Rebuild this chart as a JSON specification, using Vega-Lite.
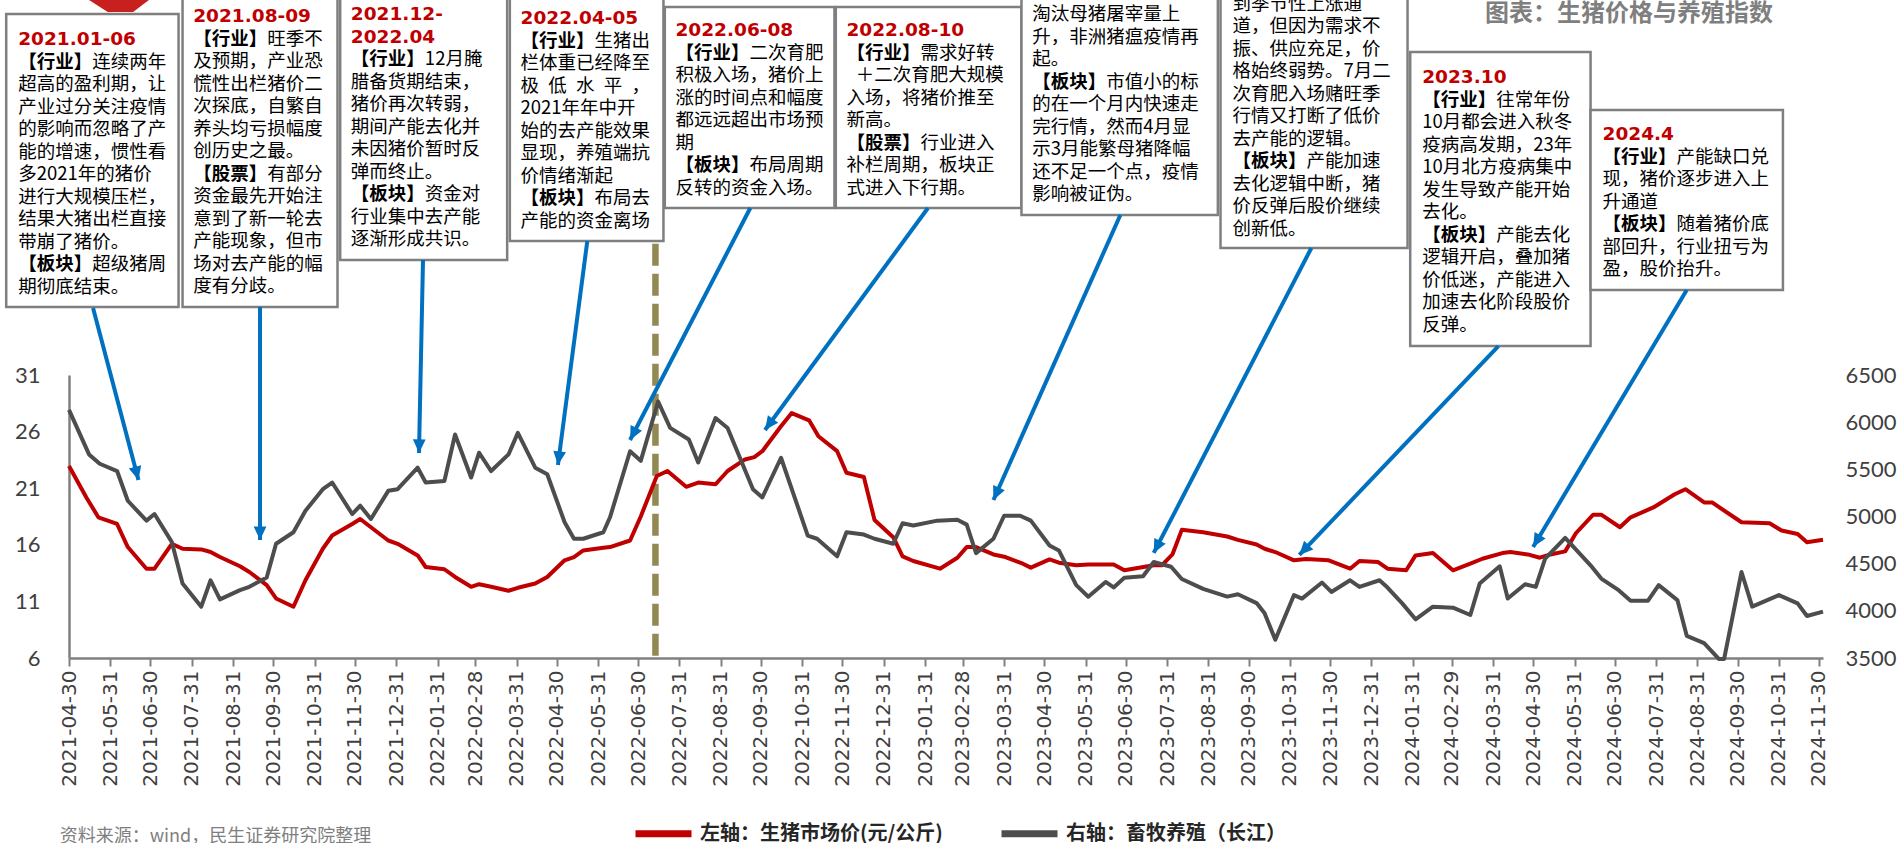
{
"$schema": "https://vega.github.io/schema/vega-lite/v6.json",
"width": 1754, "height": 283,
"autosize": {"type": "none"},
"padding": {"left": 69, "top": 375, "right": 78, "bottom": 185},
"background": "white",
"config": {"view": {"stroke": null}, "axis": {"grid": false}},
"datasets": {
"red": [
{"d":"2021-04-30","v":22.96},{"d":"2021-05-13","v":20.18},{"d":"2021-05-22","v":18.43},{"d":"2021-06-05","v":17.84},{"d":"2021-06-13","v":15.8},{"d":"2021-06-27","v":13.89},{"d":"2021-07-03","v":13.89},{"d":"2021-07-16","v":16.09},{"d":"2021-07-24","v":15.65},{"d":"2021-08-07","v":15.59},{"d":"2021-08-14","v":15.36},{"d":"2021-08-21","v":14.92},{"d":"2021-09-05","v":14.1},{"d":"2021-09-12","v":13.6},{"d":"2021-09-25","v":12.43},{"d":"2021-10-02","v":11.26},{"d":"2021-10-15","v":10.53},{"d":"2021-10-24","v":12.87},{"d":"2021-11-06","v":15.65},{"d":"2021-11-13","v":16.82},{"d":"2021-11-28","v":17.84},{"d":"2021-12-04","v":18.28},{"d":"2021-12-12","v":17.55},{"d":"2021-12-25","v":16.38},{"d":"2022-01-01","v":16.09},{"d":"2022-01-16","v":15.06},{"d":"2022-01-22","v":14.04},{"d":"2022-02-05","v":13.84},{"d":"2022-02-13","v":13.16},{"d":"2022-02-25","v":12.29},{"d":"2022-03-03","v":12.52},{"d":"2022-03-12","v":12.29},{"d":"2022-03-25","v":11.94},{"d":"2022-04-01","v":12.2},{"d":"2022-04-14","v":12.58},{"d":"2022-04-23","v":13.16},{"d":"2022-05-06","v":14.63},{"d":"2022-05-13","v":14.92},{"d":"2022-05-20","v":15.5},{"d":"2022-06-04","v":15.74},{"d":"2022-06-09","v":15.8},{"d":"2022-06-24","v":16.38},{"d":"2022-07-02","v":18.5},{"d":"2022-07-14","v":22.08},{"d":"2022-07-22","v":22.52},{"d":"2022-08-05","v":21.12},{"d":"2022-08-14","v":21.5},{"d":"2022-08-27","v":21.35},{"d":"2022-09-05","v":22.52},{"d":"2022-09-18","v":23.54},{"d":"2022-09-25","v":23.75},{"d":"2022-10-01","v":24.27},{"d":"2022-10-15","v":26.47},{"d":"2022-10-23","v":27.64},{"d":"2022-11-05","v":27.0},{"d":"2022-11-12","v":25.59},{"d":"2022-11-26","v":24.27},{"d":"2022-12-03","v":22.37},{"d":"2022-12-16","v":21.99},{"d":"2022-12-24","v":18.19},{"d":"2023-01-07","v":16.67},{"d":"2023-01-14","v":14.98},{"d":"2023-01-22","v":14.57},{"d":"2023-02-11","v":13.89},{"d":"2023-02-24","v":14.86},{"d":"2023-03-03","v":15.8},{"d":"2023-03-10","v":15.8},{"d":"2023-03-23","v":15.15},{"d":"2023-04-01","v":14.92},{"d":"2023-04-14","v":14.33},{"d":"2023-04-20","v":13.98},{"d":"2023-05-04","v":14.71},{"d":"2023-05-11","v":14.42},{"d":"2023-05-24","v":14.19},{"d":"2023-06-02","v":14.27},{"d":"2023-06-21","v":14.27},{"d":"2023-06-29","v":13.75},{"d":"2023-07-21","v":14.19},{"d":"2023-07-27","v":14.19},{"d":"2023-08-04","v":15.15},{"d":"2023-08-11","v":17.32},{"d":"2023-08-27","v":17.11},{"d":"2023-09-14","v":16.73},{"d":"2023-09-22","v":16.44},{"d":"2023-10-06","v":16.03},{"d":"2023-10-12","v":15.65},{"d":"2023-10-20","v":15.36},{"d":"2023-11-03","v":14.63},{"d":"2023-11-12","v":14.74},{"d":"2023-11-29","v":14.63},{"d":"2023-12-15","v":13.89},{"d":"2023-12-22","v":14.57},{"d":"2024-01-05","v":14.48},{"d":"2024-01-12","v":13.89},{"d":"2024-01-26","v":13.75},{"d":"2024-02-02","v":15.06},{"d":"2024-02-15","v":15.27},{"d":"2024-03-01","v":13.75},{"d":"2024-03-14","v":14.33},{"d":"2024-03-23","v":14.77},{"d":"2024-04-07","v":15.27},{"d":"2024-04-13","v":15.36},{"d":"2024-04-26","v":15.15},{"d":"2024-05-05","v":14.86},{"d":"2024-05-13","v":15.15},{"d":"2024-05-24","v":15.42},{"d":"2024-06-01","v":17.02},{"d":"2024-06-14","v":18.66},{"d":"2024-06-20","v":18.66},{"d":"2024-07-04","v":17.55},{"d":"2024-07-12","v":18.43},{"d":"2024-07-29","v":19.3},{"d":"2024-08-14","v":20.47},{"d":"2024-08-22","v":20.91},{"d":"2024-09-05","v":19.74},{"d":"2024-09-11","v":19.74},{"d":"2024-10-03","v":17.99},{"d":"2024-10-24","v":17.9},{"d":"2024-11-02","v":17.26},{"d":"2024-11-14","v":16.96},{"d":"2024-11-21","v":16.23},{"d":"2024-12-03","v":16.44}
],
"gray": [
{"d":"2021-04-30","v":6131},{"d":"2021-05-15","v":5658},{"d":"2021-05-23","v":5559},{"d":"2021-06-05","v":5482},{"d":"2021-06-13","v":5167},{"d":"2021-06-27","v":4956},{"d":"2021-07-03","v":5026},{"d":"2021-07-16","v":4728},{"d":"2021-07-24","v":4290},{"d":"2021-08-07","v":4044},{"d":"2021-08-14","v":4324},{"d":"2021-08-21","v":4121},{"d":"2021-09-05","v":4220},{"d":"2021-09-12","v":4255},{"d":"2021-09-25","v":4353},{"d":"2021-10-02","v":4711},{"d":"2021-10-15","v":4833},{"d":"2021-10-24","v":5061},{"d":"2021-11-06","v":5289},{"d":"2021-11-13","v":5360},{"d":"2021-11-28","v":5026},{"d":"2021-12-04","v":5114},{"d":"2021-12-12","v":4974},{"d":"2021-12-25","v":5272},{"d":"2022-01-01","v":5289},{"d":"2022-01-16","v":5517},{"d":"2022-01-22","v":5360},{"d":"2022-02-05","v":5377},{"d":"2022-02-13","v":5869},{"d":"2022-02-25","v":5413},{"d":"2022-03-03","v":5676},{"d":"2022-03-12","v":5482},{"d":"2022-03-25","v":5658},{"d":"2022-04-01","v":5886},{"d":"2022-04-14","v":5517},{"d":"2022-04-23","v":5448},{"d":"2022-05-06","v":4939},{"d":"2022-05-13","v":4764},{"d":"2022-05-20","v":4764},{"d":"2022-06-04","v":4833},{"d":"2022-06-09","v":4992},{"d":"2022-06-24","v":5692},{"d":"2022-07-02","v":5590},{"d":"2022-07-15","v":6219},{"d":"2022-07-24","v":5939},{"d":"2022-08-07","v":5816},{"d":"2022-08-14","v":5573},{"d":"2022-08-27","v":6044},{"d":"2022-09-05","v":5939},{"d":"2022-09-24","v":5289},{"d":"2022-10-01","v":5202},{"d":"2022-10-15","v":5623},{"d":"2022-11-04","v":4798},{"d":"2022-11-11","v":4764},{"d":"2022-11-26","v":4578},{"d":"2022-12-03","v":4833},{"d":"2022-12-16","v":4809},{"d":"2022-12-24","v":4764},{"d":"2023-01-07","v":4711},{"d":"2023-01-14","v":4928},{"d":"2023-01-22","v":4904},{"d":"2023-02-09","v":4956},{"d":"2023-02-24","v":4966},{"d":"2023-03-03","v":4914},{"d":"2023-03-10","v":4612},{"d":"2023-03-23","v":4764},{"d":"2023-03-31","v":5008},{"d":"2023-04-12","v":5008},{"d":"2023-04-20","v":4956},{"d":"2023-05-04","v":4693},{"d":"2023-05-11","v":4640},{"d":"2023-05-24","v":4272},{"d":"2023-06-02","v":4149},{"d":"2023-06-15","v":4306},{"d":"2023-06-21","v":4248},{"d":"2023-06-29","v":4350},{"d":"2023-07-13","v":4366},{"d":"2023-07-21","v":4518},{"d":"2023-08-03","v":4467},{"d":"2023-08-11","v":4337},{"d":"2023-08-27","v":4233},{"d":"2023-09-14","v":4151},{"d":"2023-09-22","v":4176},{"d":"2023-10-06","v":4082},{"d":"2023-10-12","v":3974},{"d":"2023-10-20","v":3693},{"d":"2023-11-03","v":4167},{"d":"2023-11-09","v":4130},{"d":"2023-11-24","v":4300},{"d":"2023-12-01","v":4200},{"d":"2023-12-15","v":4324},{"d":"2023-12-22","v":4254},{"d":"2024-01-06","v":4324},{"d":"2024-01-12","v":4247},{"d":"2024-01-23","v":4079},{"d":"2024-02-02","v":3910},{"d":"2024-02-15","v":4044},{"d":"2024-03-01","v":4033},{"d":"2024-03-14","v":3956},{"d":"2024-03-21","v":4289},{"d":"2024-04-05","v":4472},{"d":"2024-04-11","v":4131},{"d":"2024-04-24","v":4282},{"d":"2024-05-02","v":4254},{"d":"2024-05-09","v":4553},{"d":"2024-05-24","v":4774},{"d":"2024-06-12","v":4482},{"d":"2024-06-20","v":4342},{"d":"2024-07-03","v":4219},{"d":"2024-07-12","v":4107},{"d":"2024-07-25","v":4107},{"d":"2024-08-02","v":4272},{"d":"2024-08-16","v":4114},{"d":"2024-08-23","v":3735},{"d":"2024-09-05","v":3658},{"d":"2024-09-16","v":3490},{"d":"2024-09-20","v":3490},{"d":"2024-10-03","v":4412},{"d":"2024-10-11","v":4044},{"d":"2024-10-31","v":4167},{"d":"2024-11-14","v":4079},{"d":"2024-11-21","v":3945},{"d":"2024-12-03","v":3991}
],
"boxes": [
{"d":"2021-03-23","v":61.44,"d1":"2021-03-14","d2":"2021-07-21","v1":62.89,"v2":37.01,"t":["2021.01-06"],
 "b":["\u200b","\u200b\u3000\u3000\u3000\u3000连续两年","超高的盈利期，让","产业过分关注疫情","的影响而忽略了产","能的增速，惯性看","多2021年的猪价","进行大规模压栏，","结果大猪出栏直接","带崩了猪价。","\u200b\u3000\u3000\u3000\u3000超级猪周","期彻底结束。"],
 "k":["\u200b","【行业】","\u200b","\u200b","\u200b","\u200b","\u200b","\u200b","\u200b","\u200b","【板块】","\u200b"]},
{"d":"2021-08-01","v":63.47,"d1":"2021-07-24","d2":"2021-11-17","v1":65.5,"v2":37.01,"t":["2021.08-09"],
 "b":["\u200b","\u200b\u3000\u3000\u3000\u3000旺季不","及预期，产业恐","慌性出栏猪价二","次探底，自繁自","养头均亏损幅度","创历史之最。","\u200b\u3000\u3000\u3000\u3000有部分","资金最先开始注","意到了新一轮去","产能现象，但市","场对去产能的幅","度有分歧。"],
 "k":["\u200b","【行业】","\u200b","\u200b","\u200b","\u200b","\u200b","【股票】","\u200b","\u200b","\u200b","\u200b","\u200b"]},
{"d":"2021-11-27","v":63.65,"d1":"2021-11-19","d2":"2022-03-24","v1":65.5,"v2":41.16,"t":["2021.12-","2022.04"],
 "b":["\u200b","\u200b","\u200b\u3000\u3000\u3000\u300012月腌","腊备货期结束，","猪价再次转弱，","期间产能去化并","未因猪价暂时反","弹而终止。","\u200b\u3000\u3000\u3000\u3000资金对","行业集中去产能","逐渐形成共识。"],
 "k":["\u200b","\u200b","【行业】","\u200b","\u200b","\u200b","\u200b","\u200b","【板块】","\u200b","\u200b"]},
{"d":"2022-04-03","v":63.30,"d1":"2022-03-26","d2":"2022-07-19","v1":65.5,"v2":42.84,"t":["2022.04-05"],
 "b":["\u200b","\u200b\u3000\u3000\u3000\u3000生猪出","栏体重已经降至","极\u2002低\u2002水\u2002平\u2002，","2021年年中开","始的去产能效果","显现，养殖端抗","价情绪渐起","\u200b\u3000\u3000\u3000\u3000布局去","产能的资金离场"],
 "k":["\u200b","【行业】","\u200b","\u200b","\u200b","\u200b","\u200b","\u200b","【板块】","\u200b"]},
{"d":"2022-07-28","v":62.24,"d1":"2022-07-20","d2":"2022-11-24","v1":63.51,"v2":45.75,"t":["2022.06-08"],
 "b":["\u200b","\u200b\u3000\u3000\u3000\u3000二次育肥","积极入场，猪价上","涨的时间点和幅度","都远远超出市场预","期","\u200b\u3000\u3000\u3000\u3000布局周期","反转的资金入场。"],
 "k":["\u200b","【行业】","\u200b","\u200b","\u200b","\u200b","【板块】","\u200b"]},
{"d":"2022-12-03","v":62.24,"d1":"2022-11-25","d2":"2023-04-13","v1":63.51,"v2":45.75,"t":["2022.08-10"],
 "b":["\u200b","\u200b\u3000\u3000\u3000\u3000需求好转","\u200b\u2002＋二次育肥大规模","入场，将猪价推至","新高。","\u200b\u3000\u3000\u3000\u3000行业进入","补栏周期，板块正","式进入下行期。"],
 "k":["\u200b","【行业】","\u200b","\u200b","\u200b","【股票】","\u200b","\u200b"]},
{"d":"2023-04-21","v":63.65,"d1":"2023-04-13","d2":"2023-09-07","v1":65.5,"v2":45.13,"t":"",
 "b":["淘汰母猪屠宰量上","升，非洲猪瘟疫情再","起。","\u200b\u3000\u3000\u3000\u3000市值小的标","的在一个月内快速走","完行情，然而4月显","示3月能繁母猪降幅","还不足一个点，疫情","影响被证伪。"],
 "k":["\u200b","\u200b","\u200b","【板块】","\u200b","\u200b","\u200b","\u200b","\u200b"]},
{"d":"2023-09-18","v":64.58,"d1":"2023-09-09","d2":"2024-01-27","v1":66.5,"v2":42.22,"t":"",
 "b":["到季节性上涨通","道，但因为需求不","振、供应充足，价","格始终弱势。7月二","次育肥入场赌旺季","行情又打断了低价","去产能的逻辑。","\u200b\u3000\u3000\u3000\u3000产能加速","去化逻辑中断，猪","价反弹后股价继续","创新低。"],
 "k":["\u200b","\u200b","\u200b","\u200b","\u200b","\u200b","\u200b","【板块】","\u200b","\u200b","\u200b"]},
{"d":"2024-02-07","v":58.08,"d1":"2024-01-29","d2":"2024-06-12","v1":59.53,"v2":33.56,"t":["2023.10"],
 "b":["\u200b","\u200b\u3000\u3000\u3000\u3000往常年份","10月都会进入秋冬","疫病高发期，23年","10月北方疫病集中","发生导致产能开始","去化。","\u200b\u3000\u3000\u3000\u3000产能去化","逻辑开启，叠加猪","价低迷，产能进入","加速去化阶段股价","反弹。"],
 "k":["\u200b","【行业】","\u200b","\u200b","\u200b","\u200b","\u200b","【板块】","\u200b","\u200b","\u200b","\u200b"]},
{"d":"2024-06-21","v":53.05,"d1":"2024-06-12","d2":"2024-11-03","v1":54.41,"v2":38.51,"t":["2024.4"],
 "b":["\u200b","\u200b\u3000\u3000\u3000\u3000产能缺口兑","现，猪价逐步进入上","升通道","\u200b\u3000\u3000\u3000\u3000随着猪价底","部回升，行业扭亏为","盈，股价抬升。"],
 "k":["\u200b","【行业】","\u200b","\u200b","【板块】","\u200b","\u200b"]}
],
"arrows": [
{"d1":"2021-05-18","v1":36.92,"d2":"2021-06-21","v2":21.72,"a":165.3},
{"d1":"2021-09-20","v1":37.01,"d2":"2021-09-20","v2":16.42,"a":180},
{"d1":"2022-01-20","v1":41.16,"d2":"2022-01-17","v2":24.11,"a":181.2},
{"d1":"2022-05-23","v1":42.84,"d2":"2022-05-01","v2":23.05,"a":187.4},
{"d1":"2022-09-22","v1":45.75,"d2":"2022-06-24","v2":25.26,"a":207.4},
{"d1":"2023-02-02","v1":45.75,"d2":"2022-10-03","v2":26.14,"a":216.3},
{"d1":"2023-06-26","v1":45.13,"d2":"2023-03-23","v2":19.96,"a":204.0},
{"d1":"2023-11-16","v1":42.22,"d2":"2023-07-21","v2":15.28,"a":207.4},
{"d1":"2024-04-04","v1":33.56,"d2":"2023-11-07","v2":15.10,"a":223.5},
{"d1":"2024-08-23","v1":38.51,"d2":"2024-04-30","v2":15.81,"a":210.9}
],
"chevron": [
{"d":"2021-05-10","v":64.5,"v2":64.5},{"d":"2021-05-29","v":64.5,"v2":63.07},{"d":"2021-06-17","v":64.5,"v2":63.07},{"d":"2021-07-03","v":64.5,"v2":64.5}
]
},
"layer": [
{
 "layer": [
  {
   "data": {"values": [{}]},
   "mark": {"type": "rule", "color": "#938953", "strokeWidth": 6.5, "strokeDash": [22, 8]},
   "encoding": {
    "x": {"datum": {"year": 2022, "month": 7, "date": 13, "utc": true}, "type": "temporal", "scale": {"type": "utc", "domain": [{"year": 2021, "month": 4, "date": 30, "utc": true}, {"year": 2024, "month": 12, "date": 3, "utc": true}]}, "title": null},
    "y": {"datum": 42.6, "type": "quantitative", "scale": {"domain": [6, 31], "nice": false, "zero": false}, "title": null},
    "y2": {"datum": 6}
   }
  },
  {
   "data": {"name": "red"},
   "mark": {"type": "line", "strokeWidth": 4, "strokeJoin": "round"},
   "encoding": {
    "x": {"field": "d", "type": "temporal", "title": null,
     "scale": {"type": "utc", "domain": [{"year": 2021, "month": 4, "date": 30, "utc": true}, {"year": 2024, "month": 12, "date": 3, "utc": true}]},
     "axis": {"values": [
      {"year":2021,"month":4,"date":30,"utc":true},{"year":2021,"month":5,"date":31,"utc":true},{"year":2021,"month":6,"date":30,"utc":true},{"year":2021,"month":7,"date":31,"utc":true},{"year":2021,"month":8,"date":31,"utc":true},{"year":2021,"month":9,"date":30,"utc":true},{"year":2021,"month":10,"date":31,"utc":true},{"year":2021,"month":11,"date":30,"utc":true},{"year":2021,"month":12,"date":31,"utc":true},
      {"year":2022,"month":1,"date":31,"utc":true},{"year":2022,"month":2,"date":28,"utc":true},{"year":2022,"month":3,"date":31,"utc":true},{"year":2022,"month":4,"date":30,"utc":true},{"year":2022,"month":5,"date":31,"utc":true},{"year":2022,"month":6,"date":30,"utc":true},{"year":2022,"month":7,"date":31,"utc":true},{"year":2022,"month":8,"date":31,"utc":true},{"year":2022,"month":9,"date":30,"utc":true},{"year":2022,"month":10,"date":31,"utc":true},{"year":2022,"month":11,"date":30,"utc":true},{"year":2022,"month":12,"date":31,"utc":true},
      {"year":2023,"month":1,"date":31,"utc":true},{"year":2023,"month":2,"date":28,"utc":true},{"year":2023,"month":3,"date":31,"utc":true},{"year":2023,"month":4,"date":30,"utc":true},{"year":2023,"month":5,"date":31,"utc":true},{"year":2023,"month":6,"date":30,"utc":true},{"year":2023,"month":7,"date":31,"utc":true},{"year":2023,"month":8,"date":31,"utc":true},{"year":2023,"month":9,"date":30,"utc":true},{"year":2023,"month":10,"date":31,"utc":true},{"year":2023,"month":11,"date":30,"utc":true},{"year":2023,"month":12,"date":31,"utc":true},
      {"year":2024,"month":1,"date":31,"utc":true},{"year":2024,"month":2,"date":29,"utc":true},{"year":2024,"month":3,"date":31,"utc":true},{"year":2024,"month":4,"date":30,"utc":true},{"year":2024,"month":5,"date":31,"utc":true},{"year":2024,"month":6,"date":30,"utc":true},{"year":2024,"month":7,"date":31,"utc":true},{"year":2024,"month":8,"date":31,"utc":true},{"year":2024,"month":9,"date":30,"utc":true},{"year":2024,"month":10,"date":31,"utc":true},{"year":2024,"month":11,"date":30,"utc":true}],
      "format": "%Y-%m-%d", "labelAngle": 270, "labelFont": "DejaVu Sans", "labelFontSize": 20, "labelColor": "#404040",
      "labelPadding": 4, "tickSize": 8, "tickColor": "#808080", "tickWidth": 2, "domainColor": "#808080", "domainWidth": 2.5,
      "labelOverlap": false, "labelFlush": false, "labelBound": false, "grid": false, "title": null}},
    "y": {"field": "v", "type": "quantitative", "title": null,
     "scale": {"domain": [6, 31], "nice": false, "zero": false},
     "axis": {"orient": "left", "values": [6, 11, 16, 21, 26, 31], "domainColor": "#808080", "domainWidth": 2.5, "ticks": false, "grid": false,
      "labelFont": "Lato", "labelFontSize": 22, "labelColor": "#404040", "labelPadding": 29, "title": null}},
    "color": {"datum": "左轴：生猪市场价(元/公斤)",
     "scale": {"domain": ["左轴：生猪市场价(元/公斤)", "右轴：畜牧养殖（长江）"], "range": ["#c00000", "#4d4d4d"]},
     "legend": {"orient": "none", "legendX": 563, "legendY": 427, "direction": "horizontal", "title": null,
      "symbolType": "stroke", "symbolSize": 3136, "symbolStrokeWidth": 7, "labelFont": "Noto Sans CJK SC",
      "labelFontSize": 20, "labelFontWeight": "bold", "labelColor": "#262626", "labelLimit": 500, "labelOffset": 5, "columnPadding": 44}}
   }
  }
 ]
},
{
 "data": {"name": "gray"},
 "mark": {"type": "line", "strokeWidth": 4, "strokeJoin": "round"},
 "encoding": {
  "x": {"field": "d", "type": "temporal", "title": null, "scale": {"type": "utc", "domain": [{"year": 2021, "month": 4, "date": 30, "utc": true}, {"year": 2024, "month": 12, "date": 3, "utc": true}]}},
  "y": {"field": "v", "type": "quantitative", "title": null,
   "scale": {"domain": [3500, 6500], "nice": false, "zero": false},
   "axis": {"orient": "right", "values": [3500, 4000, 4500, 5000, 5500, 6000, 6500], "format": "d", "domain": false, "ticks": false, "grid": false,
    "labelFont": "Lato", "labelFontSize": 22, "labelColor": "#404040", "labelPadding": 22, "title": null}},
  "color": {"datum": "右轴：畜牧养殖（长江）"}
 }
},
{
 "layer": [
  {
   "data": {"name": "chevron"},
   "mark": {"type": "area", "color": "#c8201e", "opacity": 1},
   "encoding": {
    "x": {"field": "d", "type": "temporal", "title": null, "scale": {"type": "utc"}},
    "y": {"field": "v", "type": "quantitative", "axis": null, "scale": {"domain": [6, 31], "nice": false, "zero": false}},
    "y2": {"field": "v2"}
   }
  },
  {
   "data": {"name": "boxes"},
   "mark": {"type": "rect", "fill": "white", "stroke": "#7f7f7f", "strokeWidth": 2.5},
   "encoding": {
    "x": {"field": "d1", "type": "temporal", "title": null, "scale": {"type": "utc"}},
    "x2": {"field": "d2"},
    "y": {"field": "v1", "type": "quantitative", "axis": null, "scale": {"domain": [6, 31], "nice": false, "zero": false}},
    "y2": {"field": "v2"}
   }
  },
  {
   "data": {"name": "boxes"},
   "mark": {"type": "text", "align": "left", "baseline": "top", "font": "DejaVu Sans", "fontWeight": "bold", "fontSize": 18.5, "lineHeight": 22.5, "color": "#c00000"},
   "encoding": {
    "x": {"field": "d", "type": "temporal", "title": null, "scale": {"type": "utc"}},
    "y": {"field": "v", "type": "quantitative", "axis": null, "scale": {"domain": [6, 31], "nice": false, "zero": false}},
    "text": {"field": "t", "type": "nominal"}
   }
  },
  {
   "data": {"name": "boxes"},
   "mark": {"type": "text", "align": "left", "baseline": "top", "font": "Noto Sans CJK SC", "fontSize": 18.5, "lineHeight": 22.5, "color": "#000000"},
   "encoding": {
    "x": {"field": "d", "type": "temporal", "title": null, "scale": {"type": "utc"}},
    "y": {"field": "v", "type": "quantitative", "axis": null, "scale": {"domain": [6, 31], "nice": false, "zero": false}},
    "text": {"field": "b", "type": "nominal"}
   }
  },
  {
   "data": {"name": "boxes"},
   "mark": {"type": "text", "align": "left", "baseline": "top", "font": "Noto Sans CJK SC", "fontWeight": "bold", "fontSize": 18.5, "lineHeight": 22.5, "color": "#000000"},
   "encoding": {
    "x": {"field": "d", "type": "temporal", "title": null, "scale": {"type": "utc"}},
    "y": {"field": "v", "type": "quantitative", "axis": null, "scale": {"domain": [6, 31], "nice": false, "zero": false}},
    "text": {"field": "k", "type": "nominal"}
   }
  },
  {
   "data": {"name": "arrows"},
   "mark": {"type": "rule", "color": "#0070c0", "strokeWidth": 4},
   "encoding": {
    "x": {"field": "d1", "type": "temporal", "title": null, "scale": {"type": "utc"}},
    "x2": {"field": "d2"},
    "y": {"field": "v1", "type": "quantitative", "axis": null, "scale": {"domain": [6, 31], "nice": false, "zero": false}},
    "y2": {"field": "v2"}
   }
  },
  {
   "data": {"name": "arrows"},
   "mark": {"type": "point", "shape": "M0,0L-0.8,1.7L0.8,1.7Z", "size": 256, "filled": true, "color": "#0070c0", "opacity": 1},
   "encoding": {
    "x": {"field": "d2", "type": "temporal", "title": null, "scale": {"type": "utc"}},
    "y": {"field": "v2", "type": "quantitative", "axis": null, "scale": {"domain": [6, 31], "nice": false, "zero": false}},
    "angle": {"field": "a", "type": "quantitative", "scale": null}
   }
  },
  {
   "data": {"values": [{"txt": "图表：生猪价格与养殖指数", "d": "2024-03-25", "v": 62.9}]},
   "mark": {"type": "text", "align": "left", "baseline": "middle", "font": "Noto Sans CJK SC", "fontWeight": "bold", "fontSize": 24, "color": "#7f7f7f"},
   "encoding": {
    "x": {"field": "d", "type": "temporal", "title": null, "scale": {"type": "utc"}},
    "y": {"field": "v", "type": "quantitative", "axis": null, "scale": {"domain": [6, 31], "nice": false, "zero": false}},
    "text": {"field": "txt", "type": "nominal"}
   }
  },
  {
   "data": {"values": [{"txt": "资料来源：wind，民生证券研究院整理", "d": "2021-04-23", "v": -9.85}]},
   "mark": {"type": "text", "align": "left", "baseline": "middle", "font": "Noto Sans CJK SC", "fontSize": 18, "color": "#7f7f7f"},
   "encoding": {
    "x": {"field": "d", "type": "temporal", "title": null, "scale": {"type": "utc"}},
    "y": {"field": "v", "type": "quantitative", "axis": null, "scale": {"domain": [6, 31], "nice": false, "zero": false}},
    "text": {"field": "txt", "type": "nominal"}
   }
  }
 ]
}
],
"resolve": {"scale": {"y": "independent"}}
}
